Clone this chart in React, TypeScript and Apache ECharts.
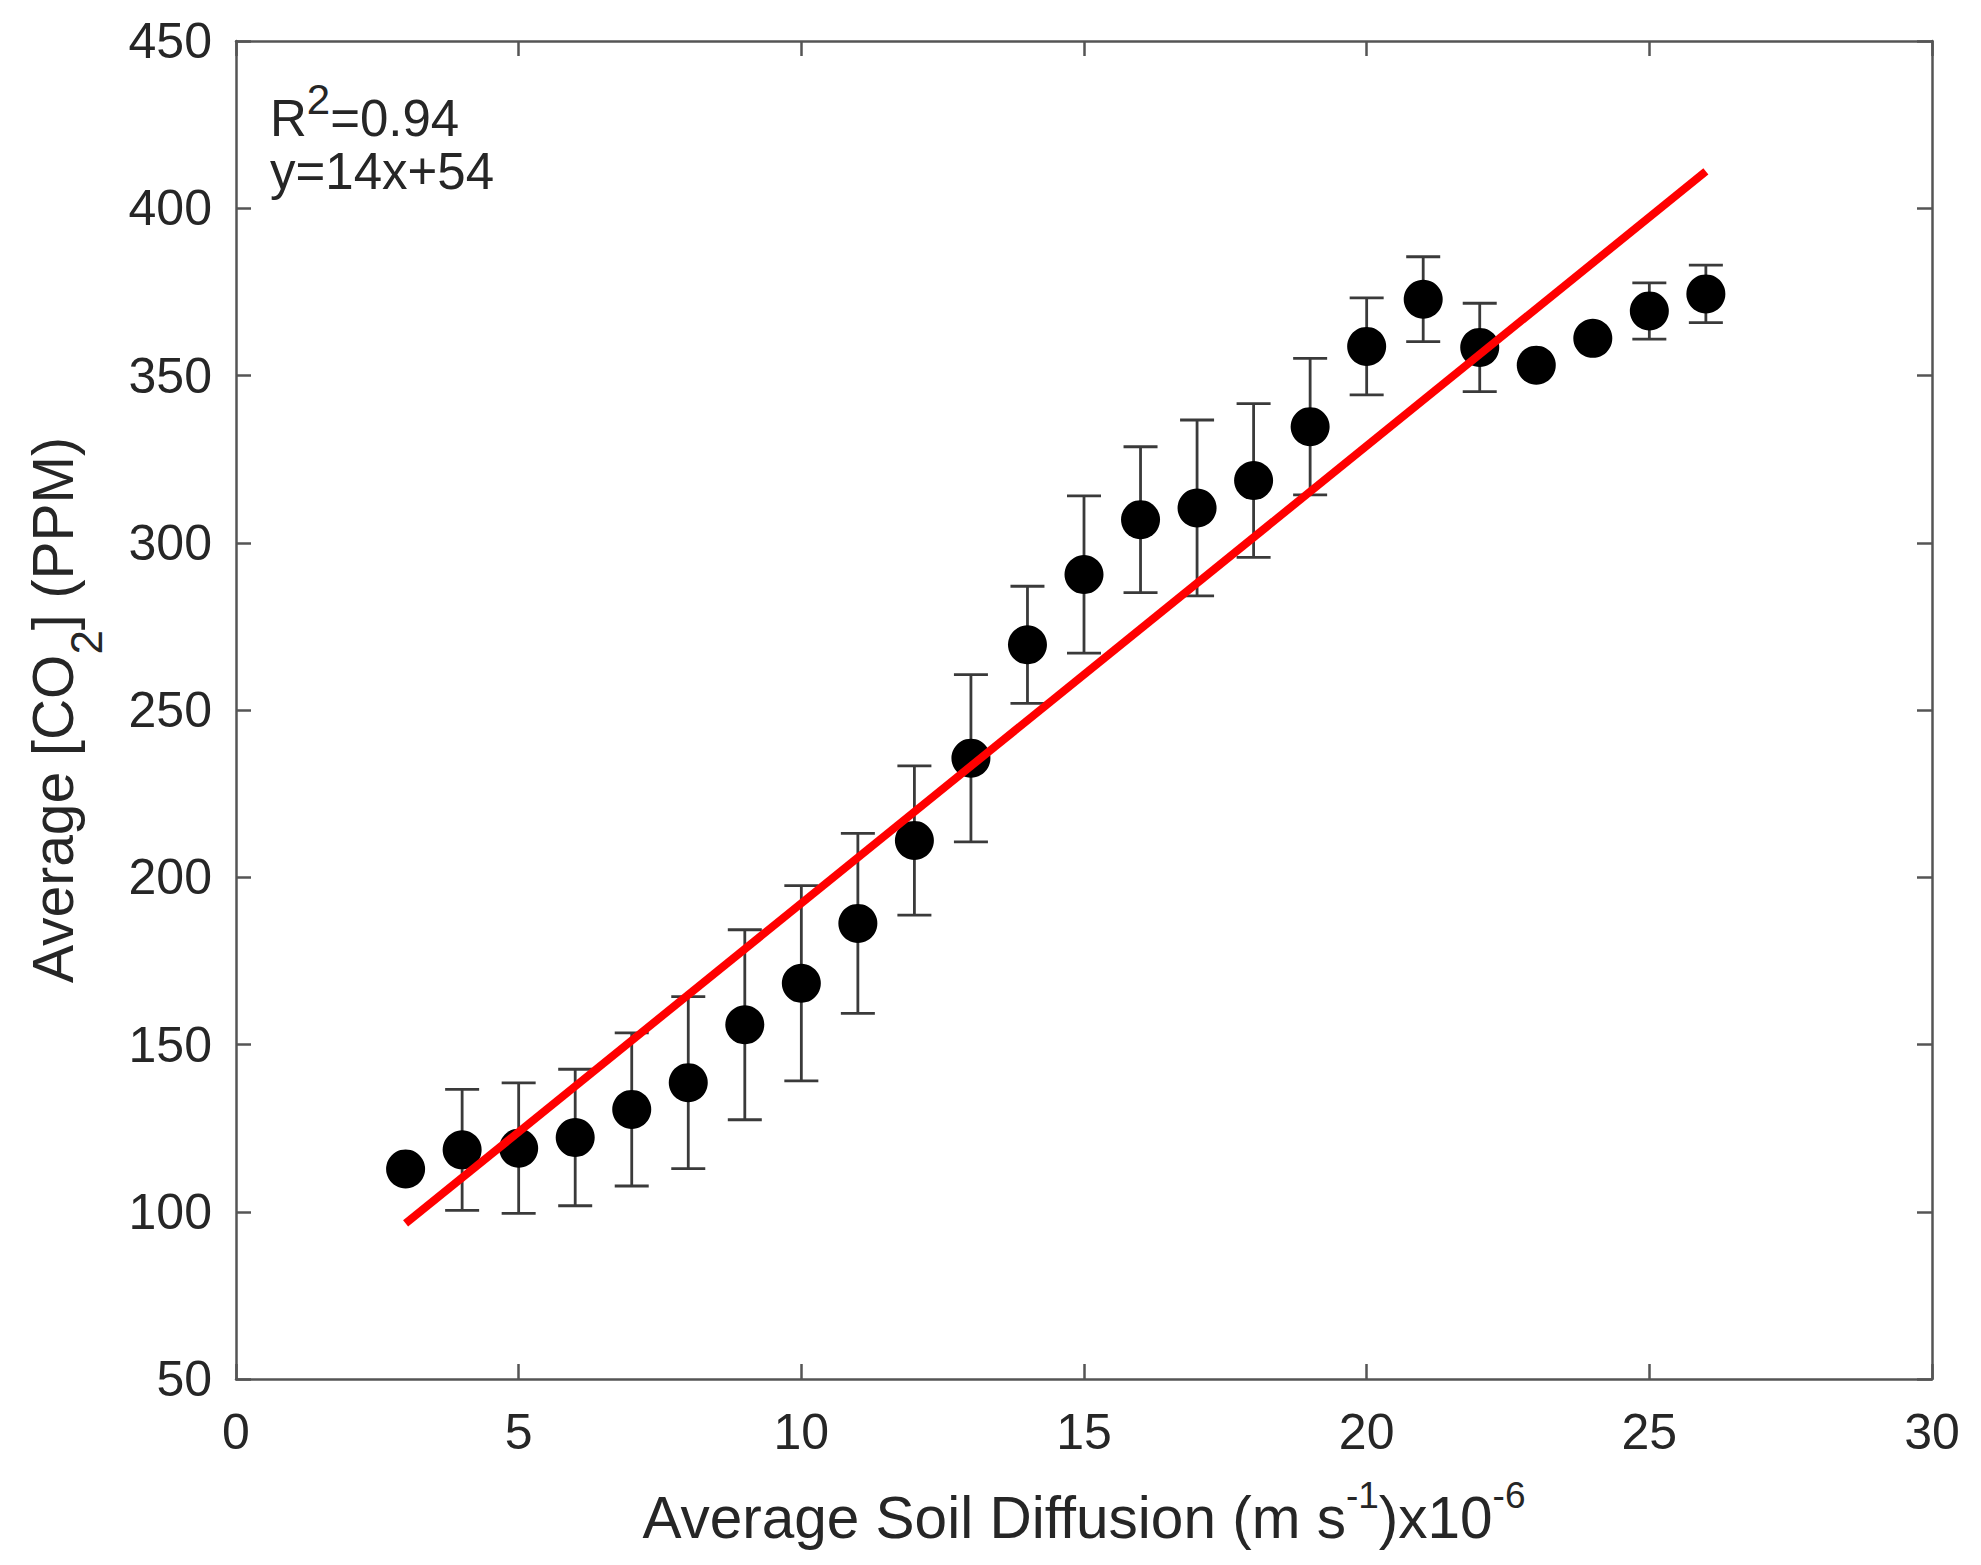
import React, { useEffect, useRef } from "react";
import * as echarts from "echarts";

// Average soil diffusion (x10^-6 m s^-1)
const diffusion = [3, 4, 5, 6, 7, 8, 9, 10, 11, 12, 13, 14, 15, 16, 17, 18, 19, 20, 21, 22, 23, 24, 25, 26];
// Average CO2 (PPM)
const co2Mean = [112.8, 118.5, 119, 122.2, 130.6, 138.6, 155.9, 168.3, 186.2, 211, 235.6, 269.5, 290.5, 306.9, 310.4, 318.6, 334.7, 358.7, 372.8, 358.4, 353.1, 361.1, 369.3, 374.4];
// Error bar half-lengths (PPM)
const co2Err = [2, 18.1, 19.5, 20.4, 22.9, 25.7, 28.4, 29.2, 26.9, 22.3, 25, 17.5, 23.5, 21.8, 26.3, 23, 20.4, 14.5, 12.7, 13.2, 2, 2, 8.4, 8.6];
// Linear fit end points
const fitX = [3, 26];
const fitY = [96.5, 411];

const xTicks = { min: 0, max: 30, interval: 5 };
const yTicks = { min: 50, max: 450, interval: 50 };

const FONT = "'Liberation Sans', Arial, Helvetica, sans-serif";
const TEXT = "#262626";
const AXIS = "#555555";

export default function App() {
  const ref = useRef<HTMLDivElement>(null);

  useEffect(() => {
    if (!ref.current) return;
    const chart = echarts.init(ref.current, undefined, { renderer: "svg" });

    const axisLine = { show: true, onZero: false, lineStyle: { color: AXIS, width: 2.5 } };
    const axisTick = { show: true, inside: true, length: 15, lineStyle: { color: AXIS, width: 2.5 } };
    const labelStyle = { fontSize: 50, color: TEXT, fontFamily: FONT };

    const option: any = {
      animation: false,
      backgroundColor: "#ffffff",
      grid: { left: 236, top: 41, right: 49, bottom: 186, show: false },
      xAxis: [
        {
          type: "value", position: "bottom", ...xTicks,
          axisLine, axisTick,
          axisLabel: { ...labelStyle, margin: 28 },
          splitLine: { show: false },
        },
        {
          type: "value", position: "top", ...xTicks,
          axisLine, axisTick,
          axisLabel: { show: false },
          splitLine: { show: false },
        },
      ],
      yAxis: [
        {
          type: "value", position: "left", ...yTicks,
          axisLine, axisTick,
          axisLabel: { ...labelStyle, margin: 24 },
          splitLine: { show: false },
        },
        {
          type: "value", position: "right", ...yTicks,
          axisLine, axisTick,
          axisLabel: { show: false },
          splitLine: { show: false },
        },
      ],
      series: [
        {
          type: "custom",
          xAxisIndex: 0,
          yAxisIndex: 0,
          z: 1,
          silent: true,
          data: diffusion.map((x, i) => [x, co2Mean[i] - co2Err[i], co2Mean[i] + co2Err[i]]),
          renderItem: (params: any, api: any) => {
            const x = api.value(0);
            const lo = api.coord([x, api.value(1)]);
            const hi = api.coord([x, api.value(2)]);
            const hw = 17;
            const st = { stroke: "#3a3a3a", lineWidth: 2.8 };
            return {
              type: "group",
              children: [
                { type: "line", shape: { x1: lo[0], y1: lo[1], x2: hi[0], y2: hi[1] }, style: st },
                { type: "line", shape: { x1: lo[0] - hw, y1: lo[1], x2: lo[0] + hw, y2: lo[1] }, style: st },
                { type: "line", shape: { x1: hi[0] - hw, y1: hi[1], x2: hi[0] + hw, y2: hi[1] }, style: st },
              ],
            };
          },
        },
        {
          type: "scatter",
          z: 2,
          symbol: "circle",
          symbolSize: 39,
          itemStyle: { color: "#000000", opacity: 1 },
          data: diffusion.map((x, i) => [x, co2Mean[i]]),
        },
        {
          type: "line",
          z: 3,
          symbol: "none",
          lineStyle: { color: "#ff0000", width: 8 },
          data: fitX.map((x, i) => [x, fitY[i]]),
        },
      ],
      graphic: [
        {
          type: "text",
          x: 270,
          y: 118,
          style: {
            text: "{n|R}{s|2}{n|=0.94}",
            align: "left",
            verticalAlign: "middle",
            rich: {
              n: { fontSize: 51, fontFamily: FONT, fill: TEXT, color: TEXT, lineHeight: 80, verticalAlign: "middle" },
              s: { fontSize: 42, fontFamily: FONT, fill: TEXT, color: TEXT, lineHeight: 34, verticalAlign: "top" },
            },
          },
        },
        {
          type: "text",
          x: 270,
          y: 171,
          style: {
            text: "y=14x+54",
            fontSize: 51,
            fontFamily: FONT,
            fill: TEXT,
            align: "left",
            verticalAlign: "middle",
          },
        },
        {
          type: "text",
          x: 1084,
          y: 1517,
          style: {
            text: "{n|Average Soil Diffusion (m s}{s|-1}{n|)x10}{s|-6}",
            align: "center",
            verticalAlign: "middle",
            rich: {
              n: { fontSize: 58.5, fontFamily: FONT, fill: TEXT, color: TEXT, lineHeight: 80, verticalAlign: "middle" },
              s: { fontSize: 37, fontFamily: FONT, fill: TEXT, color: TEXT, lineHeight: 36, verticalAlign: "top" },
            },
          },
        },
        {
          type: "text",
          x: 53,
          y: 710,
          rotation: Math.PI / 2,
          style: {
            text: "{n|Average [CO}{b|2}{n|] (PPM)}",
            align: "center",
            verticalAlign: "middle",
            rich: {
              n: { fontSize: 57, fontFamily: FONT, fill: TEXT, color: TEXT, lineHeight: 110, verticalAlign: "middle" },
              b: { fontSize: 44, fontFamily: FONT, fill: TEXT, color: TEXT, lineHeight: 44, verticalAlign: "bottom" },
            },
          },
        },
      ],
    };

    chart.setOption(option);
    return () => {
      chart.dispose();
    };
  }, []);

  return (
    <div
      ref={ref}
      style={{ position: "fixed", left: 0, top: 0, width: 1981, height: 1565, background: "#ffffff" }}
    />
  );
}
